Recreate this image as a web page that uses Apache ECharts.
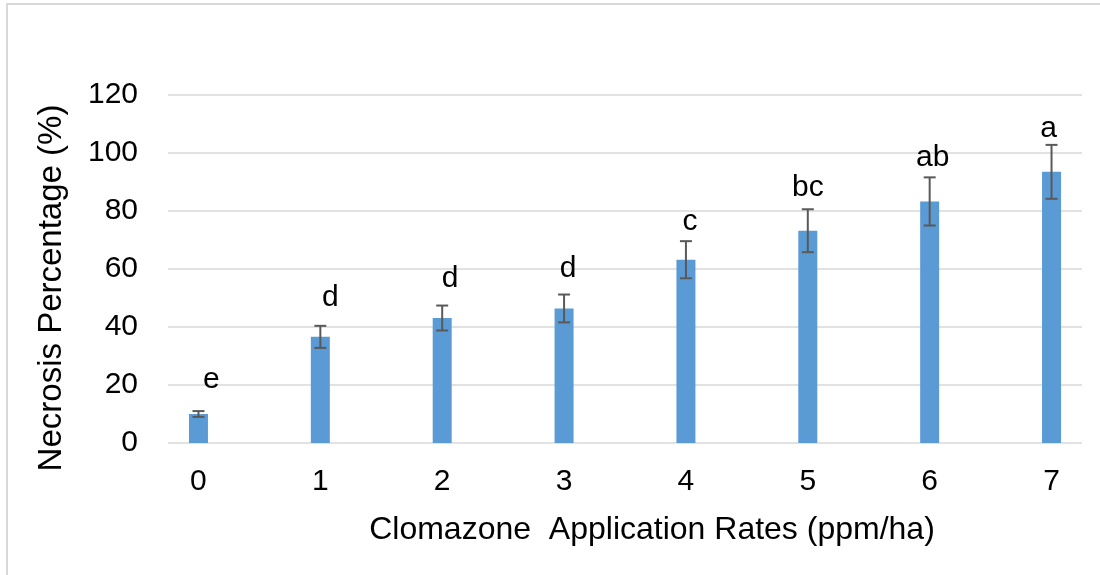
<!DOCTYPE html>
<html>
<head>
<meta charset="utf-8">
<script src="https://cdn.jsdelivr.net/npm/echarts@6/dist/echarts.min.js"></script>
<style>
  html, body { margin: 0; padding: 0; background: #fff; }
  #chart { width: 1100px; height: 575px; }
</style>
</head>
<body>
<div id="chart"></div>
<script>
// Clomazone rates (ppm/ha) and mean necrosis with standard error
const categories = ['0', '1', '2', '3', '4', '5', '6', '7'];
const necrosis = [10.0, 36.6, 43.1, 46.4, 63.2, 73.2, 83.3, 93.5];
const stdErr = [1.0, 3.8, 4.3, 4.8, 6.4, 7.4, 8.3, 9.3];
const letters = ['e', 'd', 'd', 'd', 'c', 'bc', 'ab', 'a'];
const yTicks = [0, 20, 40, 60, 80, 100, 120];

// letter placement relative to the error-bar cap (pixels)
const letterDx = [13, 10, 8, 4, 4, 0, 3, -3];
const letterDy = [31, 28, 27, 26, 19, 22, 20, 16];

const FONT = '"Liberation Sans", Arial, sans-serif';
const chart = echarts.init(document.getElementById('chart'));

const barData = necrosis.map((v, i) => [i, v]);
const errData = necrosis.map((v, i) => [i, v - stdErr[i], v + stdErr[i]]);

chart.setOption({
  animation: false,
  backgroundColor: '#fff',
  grid: { left: 168, right: 18, top: 95, bottom: 132 },
  xAxis: {
    type: 'value',
    min: -0.25,
    max: 7.25,
    interval: 0.25,
    axisLine: { show: false },
    axisTick: { show: false },
    splitLine: { show: false },
    axisLabel: {
      margin: 24,
      fontFamily: FONT,
      fontSize: 30,
      color: '#000',
      formatter: v => {
        const i = Math.round(v);
        return Math.abs(v - i) < 1e-6 && categories[i] !== undefined ? categories[i] : '';
      }
    }
  },
  yAxis: {
    type: 'value',
    min: yTicks[0],
    max: yTicks[yTicks.length - 1],
    interval: yTicks[1] - yTicks[0],
    axisLine: { show: false },
    axisTick: { show: false },
    splitLine: { lineStyle: { color: '#d9d9d9', width: 1.5 } },
    axisLabel: {
      margin: 30,
      fontFamily: FONT,
      fontSize: 30,
      color: '#000'
    }
  },
  series: [
    {
      type: 'bar',
      data: barData,
      barWidth: 19,
      itemStyle: { color: '#5b9bd5' }
    },
    {
      type: 'custom',
      data: errData,
      z: 5,
      renderItem: (params, api) => {
        const i = api.value(0);
        const lo = api.coord([i, api.value(1)]);
        const hi = api.coord([i, api.value(2)]);
        const half = 6;
        const style = { stroke: '#595959', lineWidth: 2 };
        return {
          type: 'group',
          children: [
            { type: 'line', shape: { x1: hi[0], y1: hi[1], x2: lo[0], y2: lo[1] }, style },
            { type: 'line', shape: { x1: hi[0] - half, y1: hi[1], x2: hi[0] + half, y2: hi[1] }, style },
            { type: 'line', shape: { x1: lo[0] - half, y1: lo[1], x2: lo[0] + half, y2: lo[1] }, style },
            {
              type: 'text',
              x: hi[0] + letterDx[i],
              y: hi[1] - letterDy[i],
              style: {
                text: letters[i],
                fill: '#000',
                font: '30px ' + FONT,
                textAlign: 'center',
                textVerticalAlign: 'middle'
              }
            }
          ]
        };
      }
    }
  ],
  graphic: [
    {
      type: 'rect',
      shape: { x: 7, y: 4, width: 1110, height: 590 },
      style: { fill: 'none', stroke: '#d9d9d9', lineWidth: 2 },
      silent: true
    },
    {
      type: 'text',
      x: 52,
      y: 288,
      rotation: Math.PI / 2,
      style: {
        text: 'Necrosis Percentage (%)',
        fill: '#000',
        font: '33px ' + FONT,
        textAlign: 'center',
        textVerticalAlign: 'middle'
      }
    },
    {
      type: 'text',
      x: 652,
      y: 530,
      style: {
        text: 'Clomazone  Application Rates (ppm/ha)',
        fill: '#000',
        font: '32px ' + FONT,
        textAlign: 'center',
        textVerticalAlign: 'middle'
      }
    }
  ]
});
</script>
</body>
</html>
